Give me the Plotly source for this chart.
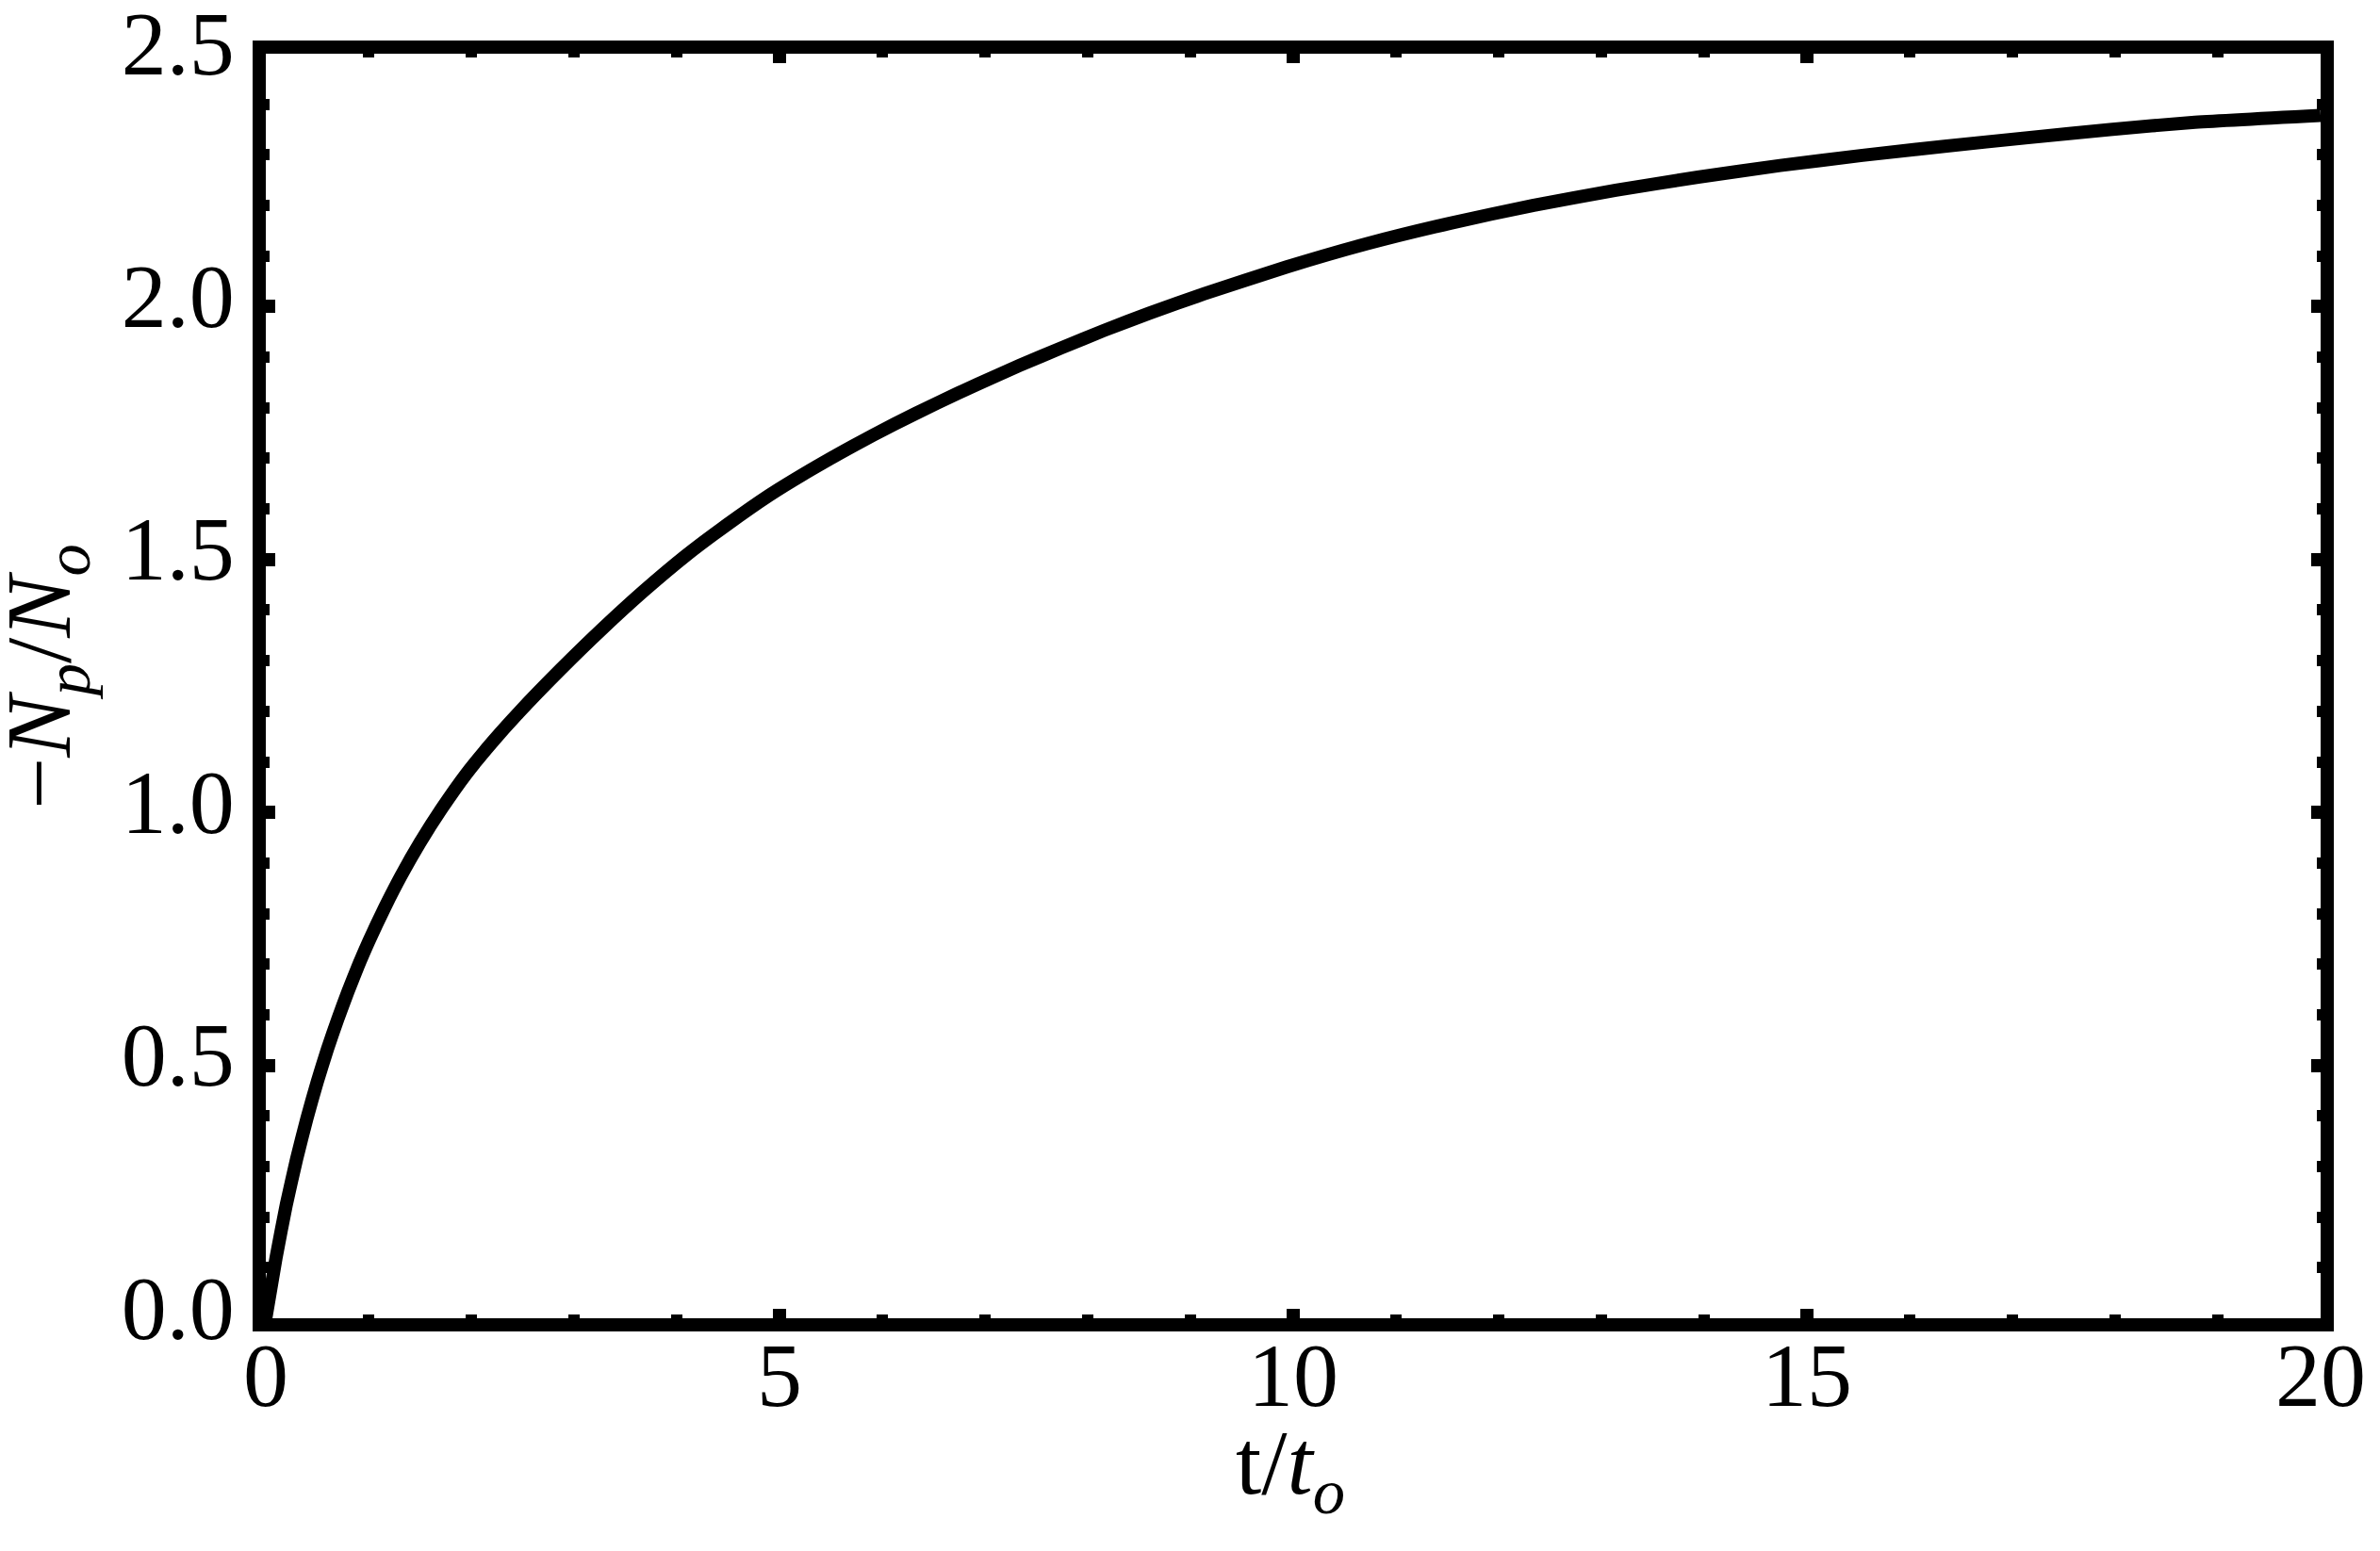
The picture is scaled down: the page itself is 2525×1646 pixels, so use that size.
import plotly.graph_objects as go

# values
t_ratio = [0, 0.1, 0.2, 0.3, 0.4, 0.5, 0.6, 0.7, 0.8, 0.9, 1.0, 1.16, 1.32, 1.5,
           1.71, 1.95, 2.2, 2.46, 2.87, 3.27, 3.68, 4.09, 4.49, 4.9, 5.31,
           5.71, 6.12, 6.53, 6.93, 7.34, 7.75, 8.16, 8.6, 9.13, 9.93, 10.73, 11.53,
           12.33, 13.14, 13.94, 14.74, 15.54, 16.34, 17.15, 17.95, 18.75, 20]
np_ratio = [0, 0.12, 0.225, 0.315, 0.395, 0.467, 0.532, 0.591, 0.646, 0.697, 0.744,
            0.813, 0.876, 0.94, 1.007, 1.076, 1.138, 1.197, 1.283, 1.362, 1.438,
            1.508, 1.569, 1.627, 1.678, 1.724, 1.768, 1.809, 1.847, 1.884, 1.919,
            1.953, 1.987, 2.025, 2.078, 2.125, 2.165, 2.2, 2.23, 2.256, 2.279,
            2.299, 2.317, 2.334, 2.35, 2.364, 2.378]

x_ticks = [0, 5, 10, 15, 20]
y_ticks = [0.0, 0.5, 1.0, 1.5, 2.0, 2.5]

font = "Liberation Serif, Times New Roman, serif"

W, H = 2525, 1646
L, R, T, B = 282, 63, 57, 247
pw, ph = W - L - R, H - T - B

fig = go.Figure()
fig.add_trace(go.Scatter(x=t_ratio, y=np_ratio, mode="lines",
                         line=dict(color="black", width=14, shape="spline", smoothing=0.5),
                         showlegend=False))

axis_common = dict(
    showline=True, linecolor="black", linewidth=14, mirror="allticks",
    ticks="inside", ticklen=10, tickwidth=14, tickcolor="black",
    showgrid=False, zeroline=False, ticklabeloverflow="allow", automargin=False,
    tickfont=dict(family=font, size=96, color="black"),
)

fig.update_xaxes(range=[0, 20], tickvals=x_ticks, ticklabelstandoff=-36,
                 minor=dict(ticks="inside", dtick=1, ticklen=4, tickwidth=12,
                            tickcolor="black", showgrid=False),
                 **axis_common)
fig.update_yaxes(range=[0, 2.5], tickvals=y_ticks, tickformat=".1f", ticklabelshift=-12,
                 minor=dict(ticks="inside", dtick=0.1, ticklen=4, tickwidth=12,
                            tickcolor="black", showgrid=False),
                 **axis_common)

fig.add_annotation(text="t/<i>t</i><sub><i>o</i></sub>", xref="paper", yref="paper",
                   x=(1369 - L) / pw, y=(T + ph - 1496) / ph,
                   xanchor="center", yanchor="top", showarrow=False,
                   font=dict(family=font, size=98, color="black"))
fig.add_annotation(text="\u2212<i>N</i><sub><i>p</i></sub>/<i>N</i><sub><i>o</i></sub>",
                   xref="paper", yref="paper",
                   x=(48 - L) / pw, y=(T + ph - 718) / ph,
                   xanchor="center", yanchor="middle", textangle=-90, showarrow=False,
                   font=dict(family=font, size=98, color="black"))

fig.update_layout(
    width=W, height=H,
    margin=dict(l=L, r=R, t=T, b=B, autoexpand=False),
    paper_bgcolor="white", plot_bgcolor="white",
)

# drop the default page margin so the figure sits at the window's corner
fig.write_html("out.html", config={"displayModeBar": False},
               post_script="document.body.style.margin='0';")
